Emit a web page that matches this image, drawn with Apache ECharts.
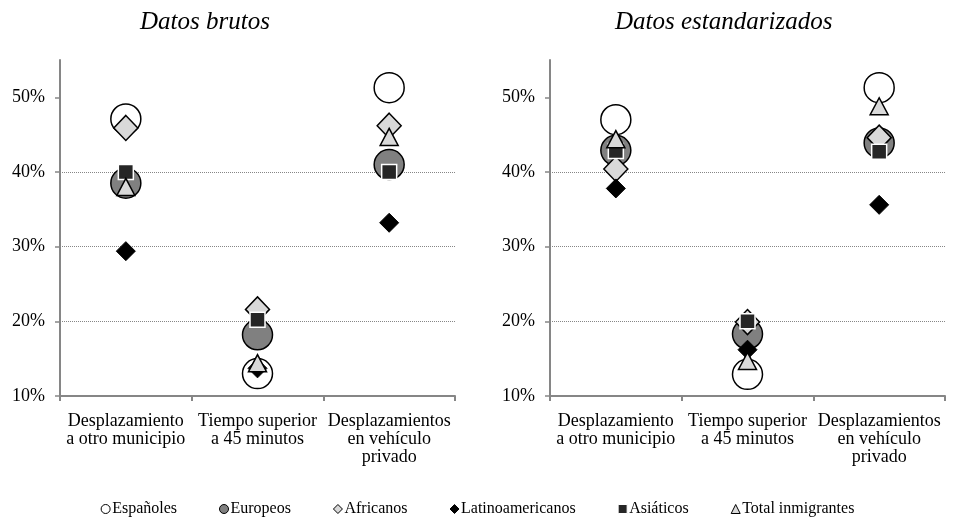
<!DOCTYPE html>
<html>
<head>
<meta charset="utf-8">
<script src="https://cdn.jsdelivr.net/npm/echarts@6/dist/echarts.min.js"></script>
<style>
  html, body { margin: 0; padding: 0; background: #fff; }
  #chart { width: 955px; height: 520px; }
</style>
</head>
<body>
<div id="chart"></div>
<script>
// categorias del eje X
const categories = ['Desplazamiento\na otro municipio', 'Tiempo superior\na 45 minutos', 'Desplazamientos\nen vehículo\nprivado']
const yTicks = [10, 20, 30, 40, 50]

// Datos brutos (%)
const espanolesBrutos = [47.1, 13.0, 51.3]
const europeosBrutos = [38.5, 18.2, 41.0]
const africanosBrutos = [45.9, 21.6, 46.2]
const latinoBrutos = [29.4, 13.7, 33.2]
const asiaticosBrutos = [40.0, 20.2, 40.0]
const totalBrutos = [38.0, 14.4, 44.7]

// Datos estandarizados (%)
const espanolesStd = [47.0, 12.9, 51.3]
const europeosStd = [42.9, 18.3, 43.9]
const africanosStd = [40.4, 19.9, 44.6]
const latinoStd = [37.8, 16.2, 35.6]
const asiaticosStd = [42.8, 20.0, 42.7]
const totalStd = [44.4, 14.7, 48.8]

const FONT = '"Liberation Serif", "DejaVu Serif", serif'
const AXIS_COLOR = '#868686'

// estilo de cada serie (mismo en los dos graficos)
const seriesStyle = [
  { name: 'Españoles', symbol: 'circle', symbolSize: 30, itemStyle: { color: '#ffffff', borderColor: '#000', borderWidth: 1.5, opacity: 1 } },
  { name: 'Europeos', symbol: 'circle', symbolSize: 30, itemStyle: { color: '#808080', borderColor: '#000', borderWidth: 1.5, opacity: 1 } },
  { name: 'Africanos', symbol: 'diamond', symbolSize: [24, 25], itemStyle: { color: '#d9d9d9', borderColor: '#000', borderWidth: 1.5, opacity: 1 } },
  { name: 'Latinoamericanos', symbol: 'diamond', symbolSize: [19, 19], itemStyle: { color: '#000', borderColor: '#000', borderWidth: 1, opacity: 1 } },
  { name: 'Asiáticos', symbol: 'rect', symbolSize: 15, itemStyle: { color: '#262626', borderColor: '#fff', borderWidth: 1.5, opacity: 1 } },
  { name: 'Total inmigrantes', symbol: 'triangle', symbolSize: [18, 17], itemStyle: { color: '#d9d9d9', borderColor: '#000', borderWidth: 1.5, opacity: 1 } }
]
const brutos = [espanolesBrutos, europeosBrutos, africanosBrutos, latinoBrutos, asiaticosBrutos, totalBrutos]
const estandar = [espanolesStd, europeosStd, africanosStd, latinoStd, asiaticosStd, totalStd]

function makeXAxis(idx) {
  return {
    type: 'category',
    gridIndex: idx,
    data: categories,
    boundaryGap: true,
    axisLine: { show: true, lineStyle: { color: AXIS_COLOR, width: 2 } },
    axisTick: { show: true, length: 5, lineStyle: { color: AXIS_COLOR, width: 2 } },
    axisLabel: {
      interval: 0,
      margin: 16,
      color: '#000',
      fontFamily: FONT,
      fontSize: 18,
      lineHeight: 18
    },
    splitLine: { show: false }
  }
}

function makeYAxis(idx) {
  return {
    type: 'value',
    gridIndex: idx,
    min: 10,
    max: 55,
    interval: 10,
    axisLine: { show: true, lineStyle: { color: AXIS_COLOR, width: 2 } },
    axisTick: { show: true, length: 5, customValues: yTicks, lineStyle: { color: AXIS_COLOR, width: 1.5 } },
    axisLabel: {
      customValues: yTicks,
      margin: 15,
      color: '#000',
      fontFamily: FONT,
      fontSize: 18,
      formatter: '{value}%'
    },
    splitLine: {
      show: true,
      showMinLine: false,
      showMaxLine: false,
      lineStyle: { color: AXIS_COLOR, type: 'dotted', width: 1 }
    }
  }
}

let series = []
;[brutos, estandar].forEach((group, gi) => {
  group.forEach((vals, si) => {
    const st = seriesStyle[si]
    series.push({
      type: 'scatter',
      name: st.name,
      xAxisIndex: gi,
      yAxisIndex: gi,
      symbol: st.symbol,
      symbolSize: st.symbolSize,
      itemStyle: st.itemStyle,
      emphasis: { disabled: true },
      z: 2 + si,
      data: vals
    })
  })
})

const chart = echarts.init(document.getElementById('chart'), null, { renderer: 'canvas' })
const option = {
  animation: false,
  backgroundColor: '#fff',
  title: [
    { text: 'Datos brutos', left: 135, top: 5, textStyle: { fontFamily: FONT, fontStyle: 'italic', fontWeight: 'normal', fontSize: 25, color: '#000' } },
    { text: 'Datos estandarizados', left: 610, top: 5, textStyle: { fontFamily: FONT, fontStyle: 'italic', fontWeight: 'normal', fontSize: 25, color: '#000' } }
  ],
  legend: {
    top: 496,
    left: 'center',
    itemGap: 42,
    itemWidth: 9,
    itemHeight: 9,
    itemStyle: { borderWidth: 1 },
    textStyle: { fontFamily: FONT, fontSize: 16, color: '#000', padding: [0, 0, 0, -3] },
    data: seriesStyle.map(s => s.name)
  },
  grid: [
    { left: 60, right: 500, top: 60, bottom: 124 },
    { left: 550, right: 10, top: 60, bottom: 124 }
  ],
  xAxis: [makeXAxis(0), makeXAxis(1)],
  yAxis: [makeYAxis(0), makeYAxis(1)],
  series: series
}
chart.setOption(option)
</script>
</body>
</html>
